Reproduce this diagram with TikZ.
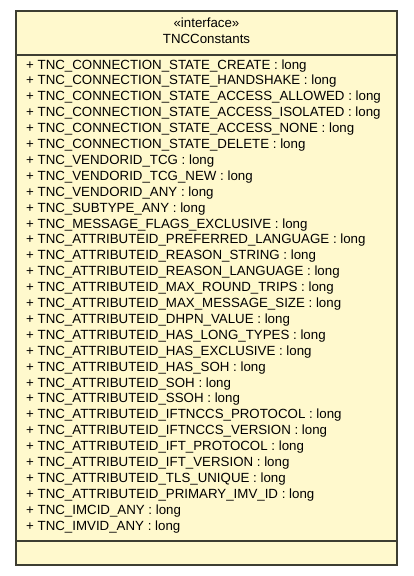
\documentclass[tikz,border=0pt]{standalone}
\usepackage{fontspec}
\setmainfont{Liberation Sans}
\usetikzlibrary{positioning}
\definecolor{umlfill}{RGB}{255,249,205}
\definecolor{umlline}{RGB}{62,62,50}

\begin{document}
\begin{tikzpicture}[
  x=1pt,y=-1pt,
  font=\fontsize{13.3}{15.9}\selectfont,
  part/.style={draw=umlline,line width=1.7pt,fill=umlfill},
  head/.style={inner sep=0pt,anchor=base},
  attrs/.style={align=left,inner sep=0pt,anchor=base west},
]
\useasboundingbox (0,0) rectangle (413,576);

% class box: name, attributes, operations
\draw[part] (16,11) rectangle (397,55);
\draw[part] (16,55) rectangle (397,541);
\draw[part] (16,541) rectangle (397,565);

% header
\node[head] (stereo) at (206.5,27) {«interface»};
\node[head] (name) at (206.5,43) {TNCConstants};

% attributes (base = last line)
\node[attrs] (attr) at (26,530.1) {%
+ TNC\_CONNECTION\_STATE\_CREATE : long\\
+ TNC\_CONNECTION\_STATE\_HANDSHAKE : long\\
+ TNC\_CONNECTION\_STATE\_ACCESS\_ALLOWED : long\\
+ TNC\_CONNECTION\_STATE\_ACCESS\_ISOLATED : long\\
+ TNC\_CONNECTION\_STATE\_ACCESS\_NONE : long\\
+ TNC\_CONNECTION\_STATE\_DELETE : long\\
+ TNC\_VENDORID\_TCG : long\\
+ TNC\_VENDORID\_TCG\_NEW : long\\
+ TNC\_VENDORID\_ANY : long\\
+ TNC\_SUBTYPE\_ANY : long\\
+ TNC\_MESSAGE\_FLAGS\_EXCLUSIVE : long\\
+ TNC\_ATTRIBUTEID\_PREFERRED\_LANGUAGE : long\\
+ TNC\_ATTRIBUTEID\_REASON\_STRING : long\\
+ TNC\_ATTRIBUTEID\_REASON\_LANGUAGE : long\\
+ TNC\_ATTRIBUTEID\_MAX\_ROUND\_TRIPS : long\\
+ TNC\_ATTRIBUTEID\_MAX\_MESSAGE\_SIZE : long\\
+ TNC\_ATTRIBUTEID\_DHPN\_VALUE : long\\
+ TNC\_ATTRIBUTEID\_HAS\_LONG\_TYPES : long\\
+ TNC\_ATTRIBUTEID\_HAS\_EXCLUSIVE : long\\
+ TNC\_ATTRIBUTEID\_HAS\_SOH : long\\
+ TNC\_ATTRIBUTEID\_SOH : long\\
+ TNC\_ATTRIBUTEID\_SSOH : long\\
+ TNC\_ATTRIBUTEID\_IFTNCCS\_PROTOCOL : long\\
+ TNC\_ATTRIBUTEID\_IFTNCCS\_VERSION : long\\
+ TNC\_ATTRIBUTEID\_IFT\_PROTOCOL : long\\
+ TNC\_ATTRIBUTEID\_IFT\_VERSION : long\\
+ TNC\_ATTRIBUTEID\_TLS\_UNIQUE : long\\
+ TNC\_ATTRIBUTEID\_PRIMARY\_IMV\_ID : long\\
+ TNC\_IMCID\_ANY : long\\
+ TNC\_IMVID\_ANY : long};

\end{tikzpicture}
\end{document}
